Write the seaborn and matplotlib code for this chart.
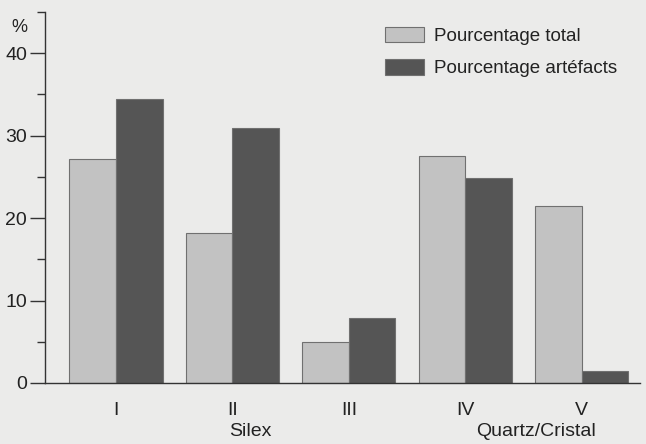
import matplotlib
matplotlib.use("Agg")
import matplotlib.pyplot as plt
import seaborn as sns
import pandas as pd
from matplotlib.ticker import MultipleLocator

categories = ["I", "II", "III", "IV", "V"]
total = [27.2, 18.2, 5.0, 27.5, 21.4]
artefacts = [34.4, 30.9, 7.9, 24.9, 1.5]
series = ["Pourcentage total", "Pourcentage artéfacts"]
groups = ["Silex", "Quartz/Cristal"]

df = pd.DataFrame({
    "cat": categories * 2,
    "val": total + artefacts,
    "serie": [series[0]] * 5 + [series[1]] * 5,
})

sns.set_style("ticks")
plt.rcParams['font.family'] = ['Liberation Sans', 'DejaVu Sans']
bg = "#ebebea"
fig = plt.figure(figsize=(6.46, 4.44), dpi=100, facecolor=bg)
ax = fig.add_axes([0.0697, 0.1374, 0.921, 0.836])
ax.set_facecolor(bg)

sns.barplot(data=df, x="cat", y="val", hue="serie", order=categories,
            hue_order=series, palette=["#c2c2c2", "#555555"], width=0.8,
            edgecolor="#707070", linewidth=0.8, ax=ax, saturation=1)

ax.set_xlim(-0.61, 4.5)
ax.set_ylim(0, 45)
ax.yaxis.set_major_locator(MultipleLocator(10))
ax.yaxis.set_minor_locator(MultipleLocator(5))
ax.tick_params(axis='y', which='major', length=11, width=1, color="#333333",
               labelsize=14, labelcolor="#222222", pad=2)
ax.tick_params(axis='y', which='minor', length=6, width=1, color="#333333")
ax.tick_params(axis='x', length=0, labelsize=14, labelcolor="#222222", pad=14)
for s in ["top", "right"]:
    ax.spines[s].set_visible(False)
for s in ["left", "bottom"]:
    ax.spines[s].set_color("#333333")
    ax.spines[s].set_linewidth(1)
ax.set_xlabel("")
ax.set_ylabel("")

fig.text(11 / 646, 1 - 28 / 444, "%", ha="left", va="center",
         fontsize=13, color="#222222")

trans = ax.get_xaxis_transform()
ax.text(1.15, -0.13, groups[0], transform=trans, ha="center", va="center",
        fontsize=14, color="#222222")
ax.text(3.61, -0.13, groups[1], transform=trans, ha="center", va="center",
        fontsize=14, color="#222222")

leg = ax.legend(loc="upper right", bbox_to_anchor=(0.99, 1.005), frameon=False,
                fontsize=13.5, handlelength=2.05, handleheight=0.9,
                labelspacing=0.75, handletextpad=0.55)
for t in leg.get_texts():
    t.set_color("#222222")

fig.savefig("out.png", dpi=100, facecolor=bg)
